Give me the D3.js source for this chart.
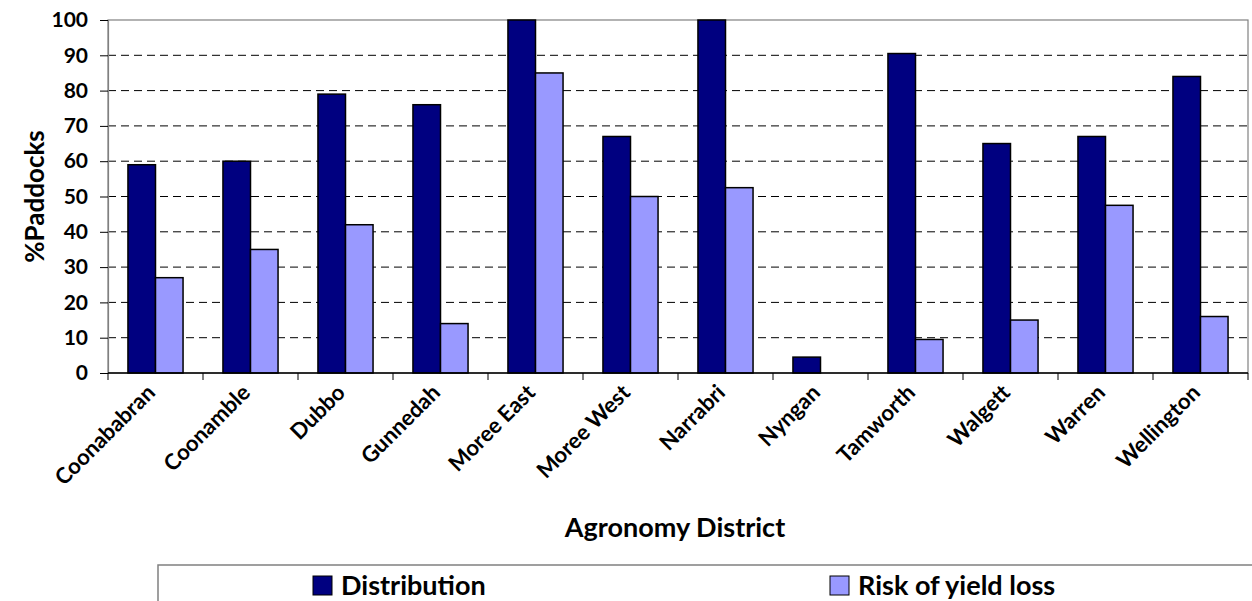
<!DOCTYPE html>
<html>
<head>
<meta charset="utf-8">
<script src="https://cdn.jsdelivr.net/npm/d3@7"></script>
<style>
  body { margin: 0; background: #fff; }
  svg { display: block; font-family: Lato, "Open Sans", sans-serif; font-weight: bold; }
</style>
</head>
<body>
<script>
// districts and the two series
const districts = ["Coonababran", "Coonamble", "Dubbo", "Gunnedah", "Moree East", "Moree West",
  "Narrabri", "Nyngan", "Tamworth", "Walgett", "Warren", "Wellington"];
const distribution = [59, 60, 79, 76, 100, 67, 100, 4.5, 90.5, 65, 67, 84];
const riskOfYieldLoss = [27, 35, 42, 14, 85, 50, 52.5, 0, 9.5, 15, 47.5, 16];
const seriesNames = ["Distribution", "Risk of yield loss"];
const yTicks = [0, 10, 20, 30, 40, 50, 60, 70, 80, 90, 100];

const width = 1252, height = 601;
const margin = {left: 108, right: 4, top: 20, bottom: 228};
const colors = ["#000080", "#9999ff"];

const svg = d3.select("body").append("svg")
  .attr("width", width)
  .attr("height", height);

const x = d3.scaleBand()
  .domain(districts)
  .range([margin.left, width - margin.right])
  .paddingInner(0.42)
  .paddingOuter(0.21);

const xs = d3.scaleBand()
  .domain(seriesNames)
  .range([0, x.bandwidth()]);

const y = d3.scaleLinear()
  .domain([0, 100])
  .range([height - margin.bottom, margin.top]);

const rows = districts.map((d, i) => ({district: d, values: [distribution[i], riskOfYieldLoss[i]]}));

// gridlines
svg.append("g")
  .selectAll("line")
  .data(yTicks.filter(t => t > 0 && t < 100))
  .enter()
  .append("line")
  .attr("x1", margin.left)
  .attr("x2", width - margin.right)
  .attr("y1", d => y(d))
  .attr("y2", d => y(d))
  .attr("stroke", "#000")
  .attr("stroke-width", 1)
  .attr("stroke-dasharray", "8,5");

// plot border
svg.append("rect")
  .attr("x", margin.left)
  .attr("y", margin.top)
  .attr("width", width - margin.right - margin.left)
  .attr("height", y(0) - margin.top)
  .attr("fill", "none")
  .attr("stroke", "#808080")
  .attr("stroke-width", 1.2);

// bars
svg.append("g")
  .selectAll("g")
  .data(rows)
  .enter()
  .append("g")
  .attr("transform", d => "translate(" + x(d.district) + ",0)")
  .selectAll("rect")
  .data(d => d.values.map((v, i) => ({key: seriesNames[i], value: v, i: i})).filter(d => d.value > 0))
  .enter()
  .append("rect")
  .attr("x", d => xs(d.key))
  .attr("width", xs.bandwidth())
  .attr("y", d => y(d.value))
  .attr("height", d => y(0) - y(d.value))
  .attr("fill", d => colors[d.i])
  .attr("stroke", "#000")
  .attr("stroke-width", 1.5);

// y axis
const yAxis = svg.append("g")
  .attr("transform", "translate(" + margin.left + ",0)")
  .call(d3.axisLeft(y).tickValues(yTicks).tickSize(8).tickPadding(12));
yAxis.select(".domain").attr("stroke", "#808080").attr("stroke-width", 1.2);
yAxis.selectAll(".tick line").attr("stroke", "#000");
yAxis.selectAll("text").attr("font-size", 21).attr("font-family", "Lato, sans-serif").attr("font-weight", "bold").attr("fill", "#000");

// x axis: ticks at band boundaries
const bounds = d3.range(districts.length + 1).map(i => margin.left + i * x.step());
svg.append("g")
  .selectAll("line")
  .data(bounds)
  .enter()
  .append("line")
  .attr("x1", d => d)
  .attr("x2", d => d)
  .attr("y1", y(0))
  .attr("y2", y(0) + 7)
  .attr("stroke", "#000");
svg.append("line")
  .attr("x1", margin.left)
  .attr("x2", width - margin.right)
  .attr("y1", y(0))
  .attr("y2", y(0))
  .attr("stroke", "#000")
  .attr("stroke-width", 1.5);

svg.append("g")
  .selectAll("text")
  .data(districts)
  .enter()
  .append("text")
  .attr("transform", d => "translate(" + (x(d) + x.bandwidth() / 2 + 1) + "," + (y(0) + 21) + ") rotate(-45)")
  .attr("text-anchor", "end")
  .attr("font-size", 22)
  .text(d => d);

// axis titles
svg.append("text")
  .attr("transform", "translate(44," + ((margin.top + y(0)) / 2) + ") rotate(-90)")
  .attr("text-anchor", "middle")
  .attr("font-size", 26)
  .text("%Paddocks");

svg.append("text")
  .attr("x", 675)
  .attr("y", 537)
  .attr("text-anchor", "middle")
  .attr("font-size", 27)
  .text("Agronomy District");

// legend
svg.append("rect")
  .attr("x", 158)
  .attr("y", 565)
  .attr("width", 1200)
  .attr("height", 100)
  .attr("fill", "#fff")
  .attr("stroke", "#808080")
  .attr("stroke-width", 1.5);

const legend = svg.append("g")
  .selectAll("g")
  .data(seriesNames)
  .enter()
  .append("g")
  .attr("transform", (d, i) => "translate(" + [313, 830][i] + ",576)");
legend.append("rect")
  .attr("width", 19)
  .attr("height", 19)
  .attr("fill", (d, i) => colors[i])
  .attr("stroke", "#000")
  .attr("stroke-width", 1);
legend.append("text")
  .attr("x", 28)
  .attr("y", 19)
  .attr("font-size", 27)
  .text(d => d);
</script>
</body>
</html>
